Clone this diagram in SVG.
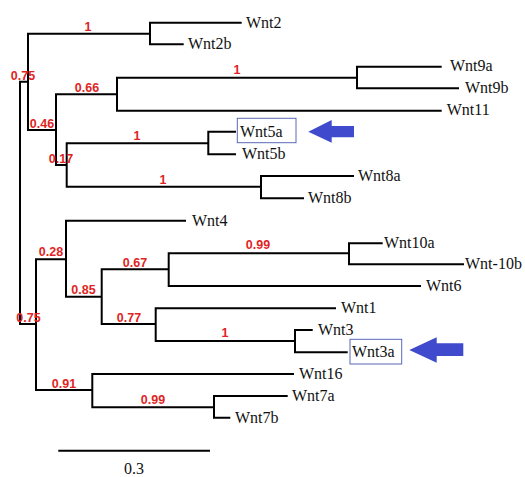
<svg xmlns="http://www.w3.org/2000/svg" width="525" height="477" viewBox="0 0 525 477">
<style>
.br{fill:none;stroke:#000;stroke-width:2;stroke-linecap:square}
.lf{font-family:"Liberation Serif","Times New Roman",serif;font-size:16px;fill:#111}
.bs{font-family:"Liberation Sans",Arial,sans-serif;font-size:12.5px;font-weight:bold;fill:#e02424;text-anchor:middle}
.box{fill:none;stroke:#5a68b8;stroke-width:1}
.arr{fill:#3f4bcc}
</style>
<rect width="525" height="477" fill="#fff"/>
<g id="connectors">
<path class="br" d="M20,81.7V324M20,81.7H28M20,324H36
M28,33.7V130M28,33.7H150M150,22.7V44.3M150,22.7H240.7M150,44.3H182.7
M28,130H56M56,94.3V165M56,94.3H117M117,77.7V110.7M117,77.7H357M357,66.7V88.3M357,66.7H440.7M357,88.3H458M117,110.7H440.7
M56,165H66.7M66.7,143.3V186.7M66.7,143.3H208.3M208.3,131.7V154.3M208.3,131.7H235M208.3,154.3H235M66.7,186.7H261M261,176V198.3M261,176H353M261,198.3H303
M36,259.3V390M36,259.3H66M66,220.7V296.7M66,220.7H185M66,296.7H101.7M101.7,269.3V324M101.7,269.3H168.7M168.7,253.3V286M168.7,253.3H349M349,243.3V264.3M349,243.3H381.7M349,264.3H463M168.7,286H420
M101.7,324H155.7M155.7,308.3V341M155.7,308.3H335M155.7,341H295M295,330V352.3M295,330H311.7M295,352.3H346.7
M36,390H92.3M92.3,374V407.3M92.3,374H293M92.3,407.3H214M214,396V417.7M214,396H286.7M214,417.7H229.3"/>
</g>
<g id="support">
<text class="bs" x="88" y="30.7">1</text>
<text class="bs" x="23" y="80">0.75</text>
<text class="bs" x="87" y="91.7">0.66</text>
<text class="bs" x="237" y="74">1</text>
<text class="bs" x="42" y="127.7">0.46</text>
<text class="bs" x="137" y="140">1</text>
<text class="bs" x="61" y="163">0.17</text>
<text class="bs" x="163" y="184">1</text>
<text class="bs" x="51" y="256">0.28</text>
<text class="bs" x="258" y="249.3">0.99</text>
<text class="bs" x="135" y="267.3">0.67</text>
<text class="bs" x="83.5" y="294">0.85</text>
<text class="bs" x="129" y="322">0.77</text>
<text class="bs" x="28.5" y="322">0.75</text>
<text class="bs" x="225" y="336.7">1</text>
<text class="bs" x="64" y="387.7">0.91</text>
<text class="bs" x="153" y="404">0.99</text>
</g>
<g id="Wnt2"><text class="lf" x="246" y="27.5">Wnt2</text></g>
<g id="Wnt2b"><text class="lf" x="188" y="48.5">Wnt2b</text></g>
<g id="Wnt9a"><text class="lf" x="450" y="71">Wnt9a</text></g>
<g id="Wnt9b"><text class="lf" x="465" y="93">Wnt9b</text></g>
<g id="Wnt11"><text class="lf" x="446.7" y="115">Wnt11</text></g>
<g id="Wnt5a"><rect class="box" x="237.3" y="118.3" width="58.7" height="24.4"/><text class="lf" x="240" y="136.5">Wnt5a</text></g>
<g id="Wnt5b"><text class="lf" x="242" y="159">Wnt5b</text></g>
<g id="Wnt8a"><text class="lf" x="358" y="181">Wnt8a</text></g>
<g id="Wnt8b"><text class="lf" x="308" y="203">Wnt8b</text></g>
<g id="Wnt4"><text class="lf" x="192" y="225.5">Wnt4</text></g>
<g id="Wnt10a"><text class="lf" x="384" y="248">Wnt10a</text></g>
<g id="Wnt-10b"><text class="lf" x="465" y="269">Wnt-10b</text></g>
<g id="Wnt6"><text class="lf" x="426" y="291">Wnt6</text></g>
<g id="Wnt1"><text class="lf" x="341" y="313">Wnt1</text></g>
<g id="Wnt3"><text class="lf" x="318" y="335">Wnt3</text></g>
<g id="Wnt3a"><rect class="box" x="350" y="339.3" width="51.7" height="24.7"/><text class="lf" x="352" y="357">Wnt3a</text></g>
<g id="Wnt16"><text class="lf" x="299" y="379">Wnt16</text></g>
<g id="Wnt7a"><text class="lf" x="292" y="401">Wnt7a</text></g>
<g id="Wnt7b"><text class="lf" x="235" y="422.5">Wnt7b</text></g>
<g id="arrow1"><path class="arr" d="M308.3,131.7L331.7,120V126H354V137.3H331.7V142.7Z"/></g>
<g id="arrow2"><path class="arr" d="M409.3,350L436.7,337.3V343.3H463.3V356H436.7V362.7Z"/></g>
<g id="scale">
<path class="br" d="M59.3,450.7H209"/>
<text class="lf" x="134" y="473.5" text-anchor="middle">0.3</text>
</g>
</svg>
